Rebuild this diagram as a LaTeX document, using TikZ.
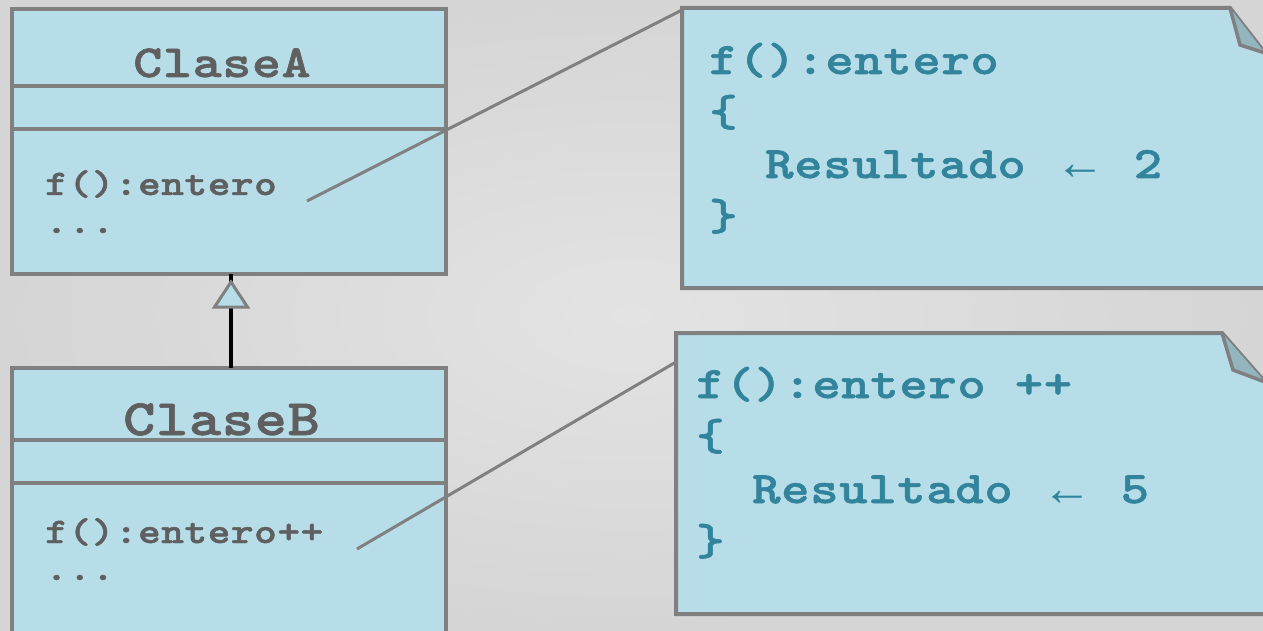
\documentclass[tikz,border=0pt]{standalone}
\usepackage{fontspec}
\newfontfamily\arrowfont{Liberation Mono}
\newfontfamily\codefont{lmmonolt10-bold}[Extension=.otf, FakeStretch=1.2, LetterSpace=1.5, FakeBold=1.3]
\usetikzlibrary{calc}
\definecolor{clsfill}{RGB}{182,221,232}
\definecolor{bordergray}{RGB}{128,128,128}
\definecolor{clstext}{RGB}{95,95,95}
\definecolor{notetext}{RGB}{49,132,155}
\definecolor{flapfill}{RGB}{146,181,190}
\definecolor{bgin}{RGB}{227,227,227}
\definecolor{bgout}{RGB}{213,213,213}
\newcommand{\codeset}[1]{\codefont\fontsize{#1}{#1}\selectfont}
\newcommand{\larrow}{\raisebox{-2pt}{\arrowfont\bfseries\fontsize{50}{50}\selectfont ←}}
\tikzset{
  clsbox/.style={draw=bordergray, line width=4pt, fill=clsfill, inner sep=0pt, outer sep=0pt},
  clsline/.style={draw=bordergray, line width=4pt},
  notearea/.style={inner sep=0pt, outer sep=0pt},
  noteshape/.style={draw=bordergray, line width=4pt, fill=clsfill, line join=miter},
  flapshape/.style={draw=bordergray, line width=3.5pt, fill=flapfill, line join=miter},
  link/.style={draw=bordergray, line width=3pt},
  genline/.style={draw=black, line width=3.5pt},
  gentri/.style={draw=bordergray, line width=3pt, fill=clsfill, line join=miter},
  clsname/.style={font={\codeset{#1}}, text=clstext, inner sep=0pt, anchor=base},
  clsmember/.style={font={\codeset{36}}, text=clstext, inner sep=0pt, anchor=base west},
  notecode/.style={font={\codeset{45}}, text=notetext, inner sep=0pt, anchor=base west}
}
\begin{document}
\begin{tikzpicture}[x=1pt,y=-1pt]
\useasboundingbox (0,0) rectangle (1263,631);
\clip (0,0) rectangle (1263,631);
\shade[inner color=bgin, outer color=bgout] (0,0) rectangle (1263,631);

% Class A
\node[clsbox, minimum width=434.5pt, minimum height=265.3pt] (A) at (228.75,141.35) {};
\draw[clsline] (A.west |- 0,86) -- (A.east |- 0,86);
\draw[clsline] (A.west |- 0,129) -- (A.east |- 0,129);
\node[clsname=46] (Aname) at (222,77) {ClaseA};
\node[clsmember] (Af) at (45,195) {f():entero};
\node[clsmember] (Adots) at (45,233) {...};
\coordinate (Aend) at (307,201);

% Class B
\node[clsbox, minimum width=434.5pt, minimum height=282pt] (B) at (228.75,509) {};
\draw[clsline] (B.west |- 0,439.5) -- (B.east |- 0,439.5);
\draw[clsline] (B.west |- 0,482.5) -- (B.east |- 0,482.5);
\node[clsname=51] (Bname) at (221.5,435) {ClaseB};
\node[clsmember] (Bf) at (45,543) {f():entero++};
\node[clsmember] (Bdots) at (45,580) {...};
\coordinate (Bend) at (357,549);

% Generalization
\draw[genline] ($(B.north)+(2.25,0)$) -- ($(A.south)+(2.25,0)$);
\draw[gentri] ($(A.south)+(2.25,8)$) -- ++(-16.5,25) -- ++(33,0) -- cycle;

% Note areas
\node[notearea, minimum width=583pt, minimum height=280pt] (N1) at (973.5,148) {};
\node[notearea, minimum width=589pt, minimum height=281pt] (N2) at (970.5,473.5) {};

% Connectors
\draw[link] (Aend) -- ($(N1.north west)+(0,2)$);
\draw[link] (Bend) -- ($(N2.north west)+(0,29)$);

% Note 1
\draw[noteshape] (N1.north west) -- ($(N1.north east)+(-35,0)$) -- ($(N1.north east)+(0,45)$) -- (N1.south east) -- (N1.south west) -- cycle;
\draw[flapshape] ($(N1.north east)+(-35,0)$) -- ($(N1.north east)+(-25,37)$) -- ($(N1.north east)+(0,45)$);
\node[notecode] (N1l1) at (709,74) {f():entero};
\node[notecode] (N1l2) at (709,126) {\{};
\node[notecode] (N1l3) at (765,178) {Resultado\hspace{40pt}\larrow\hspace{38pt}2};
\node[notecode] (N1l4) at (709,230) {\}};

% Note 2
\draw[noteshape] (N2.north west) -- ($(N2.north east)+(-43,0)$) -- ($(N2.north east)+(0,49)$) -- (N2.south east) -- (N2.south west) -- cycle;
\draw[flapshape] ($(N2.north east)+(-43,0)$) -- ($(N2.north east)+(-32,37)$) -- ($(N2.north east)+(0,49)$);
\node[notecode] (N2l1) at (696,398) {f():entero ++};
\node[notecode] (N2l2) at (696,450) {\{};
\node[notecode] (N2l3) at (752,503) {Resultado\hspace{40pt}\larrow\hspace{38pt}5};
\node[notecode] (N2l4) at (696,555) {\}};
\end{tikzpicture}
\end{document}
